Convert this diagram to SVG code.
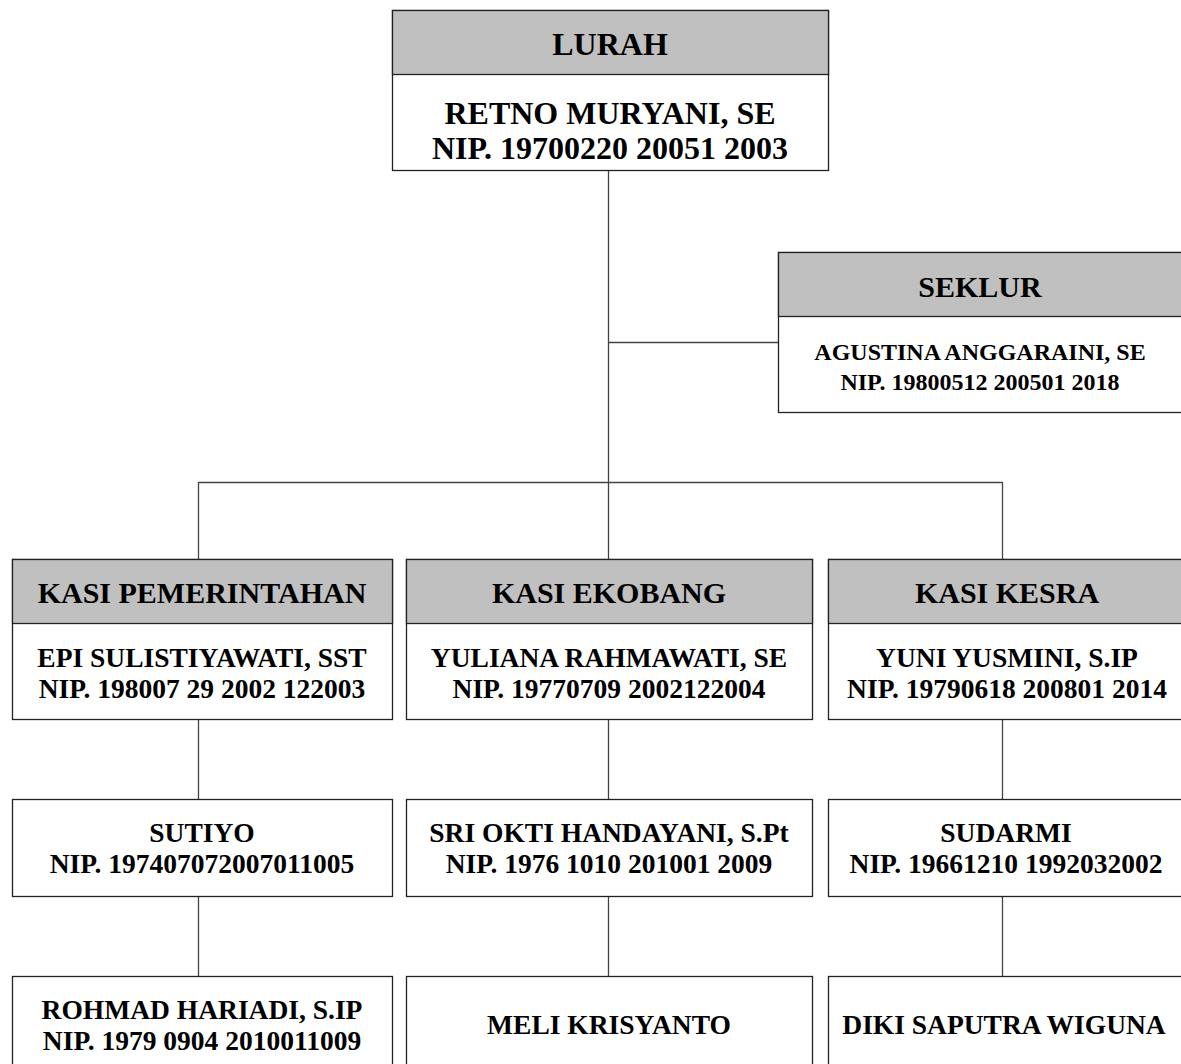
<svg xmlns="http://www.w3.org/2000/svg" width="1181" height="1064" viewBox="0 0 1181 1064">
<style>
.box{fill:#fff;stroke:#222;stroke-width:1.3}
.hdr{fill:#c0c0c0;stroke:#222;stroke-width:1.3}
.ln{stroke:#444;stroke-width:1.3;fill:none}
text{font-family:"Liberation Serif","Times New Roman",serif;font-weight:bold;fill:#000;text-anchor:middle}
.big{font-size:32px}
.h{font-size:30px}
.b{font-size:27.5px}
.s{font-size:24px}
</style>
<rect width="1181" height="1064" fill="#fff"/>
<g id="connectors">
<path class="ln" d="M608.5 170V482M608.5 342.5H778M198.5 482.5H1002.5M198.5 482V559M608.5 482V559M1002.5 482V559M198.5 719V799M608.5 719V799M1002.5 719V799M198.5 896V976M608.5 896V976M1002.5 896V976"/>
</g>
<g id="lurah">
<rect class="box" x="392.5" y="10.5" width="436" height="160"/>
<rect class="hdr" x="392.5" y="10.5" width="436" height="64"/>
<text class="big" x="610" y="55">LURAH</text>
<text class="big" x="610" y="124">RETNO MURYANI, SE</text>
<text class="big" x="610" y="159">NIP. 19700220 20051 2003</text>
</g>
<g id="seklur">
<rect class="box" x="778.5" y="252.5" width="410" height="160"/>
<rect class="hdr" x="778.5" y="252.5" width="410" height="64"/>
<text class="h" x="980" y="297">SEKLUR</text>
<text class="s" x="980" y="360">AGUSTINA ANGGARAINI, SE</text>
<text class="s" x="980" y="390">NIP. 19800512 200501 2018</text>
</g>
<g id="kasi-pemerintahan">
<rect class="box" x="12.5" y="559.5" width="380" height="160"/>
<rect class="hdr" x="12.5" y="559.5" width="380" height="64"/>
<text class="h" x="202" y="603">KASI PEMERINTAHAN</text>
<text class="b" x="202" y="667">EPI SULISTIYAWATI, SST</text>
<text class="b" x="202" y="698">NIP. 198007 29 2002 122003</text>
</g>
<g id="kasi-ekobang">
<rect class="box" x="406.5" y="559.5" width="406" height="160"/>
<rect class="hdr" x="406.5" y="559.5" width="406" height="64"/>
<text class="h" x="609" y="603">KASI EKOBANG</text>
<text class="b" x="609" y="667">YULIANA RAHMAWATI, SE</text>
<text class="b" x="609" y="698">NIP. 19770709 2002122004</text>
</g>
<g id="kasi-kesra">
<rect class="box" x="828.5" y="559.5" width="360" height="160"/>
<rect class="hdr" x="828.5" y="559.5" width="360" height="64"/>
<text class="h" x="1007" y="603">KASI KESRA</text>
<text class="b" x="1007" y="667">YUNI YUSMINI, S.IP</text>
<text class="b" x="1007" y="698">NIP. 19790618 200801 2014</text>
</g>
<g id="sutiyo">
<rect class="box" x="12.5" y="799.5" width="380" height="97"/>
<text class="b" x="202" y="842">SUTIYO</text>
<text class="b" x="202" y="873">NIP. 197407072007011005</text>
</g>
<g id="sri-okti">
<rect class="box" x="406.5" y="799.5" width="406" height="97"/>
<text class="b" x="609" y="842">SRI OKTI HANDAYANI, S.Pt</text>
<text class="b" x="609" y="873">NIP. 1976 1010 201001 2009</text>
</g>
<g id="sudarmi">
<rect class="box" x="828.5" y="799.5" width="360" height="97"/>
<text class="b" x="1006" y="842">SUDARMI</text>
<text class="b" x="1006" y="873">NIP. 19661210 1992032002</text>
</g>
<g id="rohmad">
<rect class="box" x="12.5" y="976.5" width="380" height="100"/>
<text class="b" x="202" y="1019">ROHMAD HARIADI, S.IP</text>
<text class="b" x="202" y="1050">NIP. 1979 0904 2010011009</text>
</g>
<g id="meli">
<rect class="box" x="406.5" y="976.5" width="406" height="100"/>
<text class="b" x="609" y="1034">MELI KRISYANTO</text>
</g>
<g id="diki">
<rect class="box" x="828.5" y="976.5" width="360" height="100"/>
<text class="b" x="1004" y="1034">DIKI SAPUTRA WIGUNA</text>
</g>
</svg>
